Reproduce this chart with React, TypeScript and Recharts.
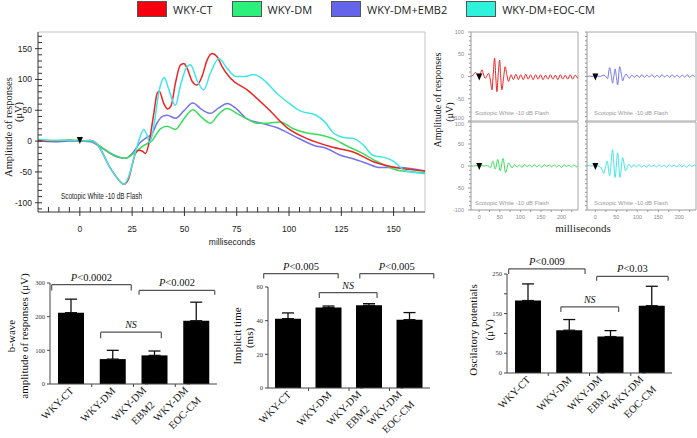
import React from 'react';
import {
  LineChart,
  Line,
  XAxis,
  YAxis,
  ReferenceLine,
  ReferenceDot,
  BarChart,
  Bar,
  ErrorBar,
} from 'recharts';

// ---------- series ----------
const SERIES = ['WKY-CT', 'WKY-DM', 'WKY-DM+EMB2', 'WKY-DM+EOC-CM'];
const LINE_COLORS = ['#ea2424', '#3ade5c', '#7373ea', '#3ee6e6'];
const BOX_COLORS = ['#f5000f', '#2cf07c', '#6565ec', '#2ef2dc'];

// ---------- scotopic ERG (ms / µV) ----------
const CT_T = [-20, -12, -5, 0, 5, 8, 10, 14.6, 18.6, 21, 23.4, 25, 26.6, 28.2, 29.8, 31.4, 33, 35.4, 37, 38, 40, 42, 43.6, 45.7, 48, 49.7, 51.3, 53.7, 56, 58.4, 60.8, 63.2, 65.6, 68, 72, 80, 89.5, 99, 108.6, 121, 131, 140, 153, 165];
const CT_V = [1, 0, 1, 0, 1, -4, -14, -44, -63, -70, -60, -39, -20, -15, -16, -20, -4, 46, 78, 81, 62, 52, 57, 94, 123, 126, 118, 97, 91, 105, 131, 142, 137, 121, 102, 83, 54, 22, 4, -10, -18, -33, -44, -48];

const DM_T = [-20, -12, -5, 0, 5, 10, 16, 21.8, 25.8, 30.6, 34.6, 38.5, 41.7, 45.7, 49.7, 54, 58.4, 62.4, 66.4, 70.4, 75, 80, 84.7, 89.5, 95.9, 102, 108.6, 115, 121, 127.7, 134, 142, 153, 165];
const DM_V = [2, 1, 2, 1, 0, -9, -22, -28, -20, -7, 1, 20, 24, 19, 36, 51, 38, 29, 44, 53, 45, 36, 29, 29, 31, 20, 13, 10, 4, -8, -18, -33, -48, -51];

const EMB_T = [-20, -12, -5, 0, 5, 10, 16, 21.8, 25, 29, 32, 34.6, 37, 40, 41.7, 45.7, 49.7, 54, 58.4, 62.4, 66.4, 70.4, 75, 80, 88, 94, 102, 112, 118, 124.5, 131, 137, 143.6, 153, 165];
const EMB_V = [0, -1, 0, 0, -1, -10, -23, -28, -20, -2, 6, 12, 30, 41, 42, 37, 49, 62, 51, 45, 54, 61, 52, 36, 28, 22, 9, -7, -12, -23, -29, -36, -43, -43, -49];

const EOC_T = [-20, -12, -5, 0, 5, 8, 10, 14.6, 18.6, 21, 23.4, 25.8, 28.2, 30.6, 32.2, 33.4, 35.4, 37.7, 40.4, 42.5, 45.7, 48, 51.3, 52.9, 56, 59.2, 62.4, 66.4, 70.4, 74.4, 79, 83, 88, 94, 100.6, 105.4, 113, 117.4, 121, 126, 131, 135.7, 140, 147, 150, 155, 160, 165];
const EOC_V = [3, 1, 1, 0, 1, -4, -14, -44, -63, -70, -57, -28, 1, 19, 9, -3, 25, 78, 103, 84, 58, 89, 121, 124, 99, 83, 110, 134, 118, 105, 105, 108, 99, 78, 60, 49, 42, 30, 14, 6, 4, -7, -23, -28, -33, -47, -51, -53];

const MAIN_X_LABELS = [0, 25, 50, 75, 100, 125, 150];
const MAIN_X_TICKS = [-15, -10, -5, 0, 5, 10, 15, 20, 25, 30, 35, 40, 45, 50, 55, 60, 65, 70, 75, 80, 85, 90, 95, 100, 105, 110, 115, 120, 125, 130, 135, 140, 145, 150, 155, 160];
const MAIN_Y_LABELS = [-100, -50, 0, 50, 100, 150];
const MAIN_Y_TICKS = [-110, -100, -90, -80, -70, -60, -50, -40, -30, -20, -10, 0, 10, 20, 30, 40, 50, 60, 70, 80, 90, 100, 110, 120, 130, 140, 150, 160, 170];

// ---------- oscillatory potentials (ms / µV) ----------
const OP_CT_T = [-20, -14, -9, -4, 0, 3, 6.5, 10, 14.6, 19, 22.8, 27, 31, 34, 37.4, 40, 43, 46, 49.6, 52, 55, 59, 63, 67, 71.5, 77, 83, 89, 95, 101, 107, 113, 119, 125, 131, 137, 143, 149, 155, 161, 167, 173, 179, 185, 191, 197, 203, 209, 215, 221, 227, 233, 239];
const OP_CT_V = [0, 4, 9, 3, -4, 6, 15, 6, -4, 2, 7, -8, -30, 5, 41, 2, -34, 3, 37, 2, -30, -4, 22, 4, -11, 4, -7, 5, -7, 4, -7, 5, -6, 4, -7, 4, -6, 4, -7, 3, -6, 4, -6, 3, -7, 4, -6, 3, -6, 4, -6, 3, -4];

const OP_DM_T = [-20, -14, -8, -2, 0, 6, 12, 18, 23, 27, 33, 39, 45, 51, 58, 64, 71.5, 80, 86, 92, 98, 104, 110, 116, 122, 128, 134, 140, 146, 152, 158, 164, 170, 176, 182, 188, 194, 200, 206, 212, 218, 224, 230, 236, 240];
const OP_DM_V = [0, 0, 1, 0, -1, 1, 0, 1, 0, -4, 11, -7, 15, -11, 17, -15, 7, -4, 3, -2, 2, -3, 3, -1, 2, -2, 3, -2, 2, -3, 3, -1, 2, -2, 3, -2, 2, -3, 3, -1, 2, -2, 3, -2, 1];

const OP_EMB_T = [-20, -14, -8, -2, 0, 6, 12, 18, 24, 29, 34, 38, 41, 44, 47, 50, 53, 58, 62, 65, 69, 73, 81, 87, 93, 99, 105, 111, 117, 123, 129, 135, 141, 147, 153, 159, 165, 171, 177, 183, 189, 195, 201, 207, 213, 219, 225, 231, 237];
const OP_EMB_V = [0, 1, 0, 1, 0, 1, 0, 3, 1, -5, 20, 2, -15, 1, 17, 0, -19, 22, 5, -10, 0, 5, -4, 3, -2, 3, -2, 4, -2, 3, -1, 4, -2, 3, -2, 4, -1, 3, -2, 4, -1, 3, -2, 3, -1, 4, -2, 3, 0];

const OP_EOC_T = [-20, -14, -8, -2, 0, 6, 12, 16, 20, 24, 28, 34, 41, 47, 53, 59, 65, 72, 80, 86, 92, 98, 104, 110, 116, 122, 128, 134, 140, 146, 152, 158, 164, 170, 176, 182, 188, 194, 200, 206, 212, 218, 224, 230, 236, 240];
const OP_EOC_V = [0, 1, 0, 1, 0, 0, -2, -8, -17, -3, 11, -22, 37, -26, 30, -26, 19, -11, 4, -3, 3, -2, 3, -2, 2, -3, 3, -1, 2, -2, 3, -2, 2, -3, 3, -1, 2, -2, 3, -2, 2, -3, 3, -1, 2, 0];

const OP_X_LABELS = [0, 50, 100, 150, 200];
const OP_X_TICKS = [0, 25, 50, 75, 100, 125, 150, 175, 200, 225];
const OP_Y_LABELS = [-100, -50, 0, 50, 100];
const OP_Y_TICKS = [-100, -90, -80, -70, -60, -50, -40, -30, -20, -10, 0, 10, 20, 30, 40, 50, 60, 70, 80, 90, 100];

// ---------- group statistics ----------
const GROUPS = ['WKY-CT', 'WKY-DM', 'WKY-DM + EBM2', 'WKY-DM + EOC-CM'];
const BWAVE = [212, 74, 85, 188];
const BWAVE_ERR = [40, 26, 13, 55];
const IMPLICIT = [41.2, 47.8, 49.1, 40.6];
const IMPLICIT_ERR = [3.4, 0.9, 1.0, 4.2];
const OSC = [183, 108, 92, 170];
const OSC_ERR = [42, 27, 15, 49];

const BWAVE_TICKS = [0, 100, 200, 300];
const IMPLICIT_TICKS = [0, 20, 40, 60];
const OSC_TICKS = [0, 50, 100, 150, 200, 250];
const OSC_LABELS = [0, 50, 150, 250];

// significance brackets: [from, to] on the group index axis, bar height, leg end
const BWAVE_SIG = [
  { from: 0.03, to: 1.46, y: 295, end: 278, text: 'P<0.0002' },
  { from: 1.6, to: 2.96, y: 278, end: 265, text: 'P<0.002' },
  { from: 0.91, to: 2.0, y: 154, end: 136, text: 'NS' },
];
const IMPLICIT_SIG = [
  { from: -0.08, to: 1.3, y: 68, end: 65, text: 'P<0.005' },
  { from: 1.7, to: 3.07, y: 68, end: 65, text: 'P<0.005' },
  { from: 0.95, to: 2.02, y: 56.7, end: 53.5, text: 'NS' },
];
const OSC_SIG = [
  { from: 0.03, to: 1.42, y: 263, end: 250, text: 'P<0.009' },
  { from: 1.63, to: 2.93, y: 244, end: 233, text: 'P<0.03' },
  { from: 0.98, to: 2.03, y: 167, end: 154, text: 'NS' },
];

const SANS = "'Liberation Sans Narrow', 'Liberation Sans', Arial, sans-serif";
const SERIF = "'Liberation Serif', 'Times New Roman', serif";

const pts = (t: number[], v: number[]) => t.map((x, i) => ({ x, y: v[i] }));

let measureCtx: CanvasRenderingContext2D | null = null;
const textWidth = (s: string, size: number) => {
  if (!measureCtx) measureCtx = document.createElement('canvas').getContext('2d');
  if (!measureCtx) return s.length * size * 0.55;
  measureCtx.font = `${size}px 'Liberation Serif'`;
  return measureCtx.measureText(s).width;
};

type TickStyle = {
  up: number;
  down: number;
  majorDown: number;
  gap: number;
  size: number;
  color: string;
  stroke: string;
  family: string;
  nudge?: Record<number, number>;
};

const xTick = (labels: number[], o: TickStyle) => (p: any) => {
  const v = p.payload?.value;
  const major = labels.includes(v);
  return (
    <g>
      <line x1={p.x} x2={p.x} y1={p.y - o.up} y2={p.y + (major ? o.majorDown : o.down)} stroke={o.stroke} strokeWidth={1} />
      {major && (
        <text x={p.x} y={p.y + o.gap} textAnchor="middle" fontSize={o.size} fill={o.color} fontFamily={o.family}>
          {v}
        </text>
      )}
    </g>
  );
};

const yTick = (labels: number[], o: TickStyle) => (p: any) => {
  const v = p.payload?.value;
  const major = labels.includes(v);
  const shift = o.nudge?.[v] ?? 0;
  return (
    <g>
      <line x1={p.x - (major ? o.majorDown : o.down)} x2={p.x + o.up} y1={p.y} y2={p.y} stroke={o.stroke} strokeWidth={1} />
      {major && (
        <text x={p.x - o.gap} y={p.y + shift} dy="0.35em" textAnchor="end" fontSize={o.size} fill={o.color} fontFamily={o.family}>
          {v}
        </text>
      )}
    </g>
  );
};

const triangle = (p: any) => (
  <path d={`M${p.cx - 3},${p.cy - 4} L${p.cx + 3},${p.cy - 4} L${p.cx},${p.cy + 3} Z`} fill="#000" />
);

function Legend() {
  return (
    <div style={{ position: 'absolute', left: 137, top: 1, display: 'flex', alignItems: 'center', fontFamily: "'Open Sans', sans-serif", fontSize: 11, color: '#222' }}>
      {SERIES.map((s, i) => (
        <div key={s} style={{ display: 'flex', alignItems: 'center', marginRight: 19 }}>
          <div style={{ width: 28, height: 14, background: BOX_COLORS[i], border: '1px solid #555' }} />
          <span style={{ marginLeft: 6 }}>{s}</span>
        </div>
      ))}
    </div>
  );
}

function MainErg() {
  const traces = [
    { d: pts(EMB_T, EMB_V), c: LINE_COLORS[2], k: 'emb' },
    { d: pts(DM_T, DM_V), c: LINE_COLORS[1], k: 'dm' },
    { d: pts(CT_T, CT_V), c: LINE_COLORS[0], k: 'ct' },
    { d: pts(EOC_T, EOC_V), c: LINE_COLORS[3], k: 'eoc' },
  ];
  const ts: TickStyle = { up: 5, down: 0, majorDown: 4, gap: 20, size: 8.5, color: '#222', stroke: '#333', family: SANS };
  const ys: TickStyle = { up: 4, down: 0, majorDown: 3, gap: 6, size: 8.5, color: '#222', stroke: '#333', family: SANS };
  return (
    <div style={{ position: 'absolute', left: 0, top: 0 }}>
      <LineChart width={440} height={250} margin={{ top: 32, right: 15, left: 0, bottom: 0 }}>
        <XAxis type="number" dataKey="x" domain={[-20, 165]} allowDataOverflow ticks={MAIN_X_TICKS} interval={0} height={38}
          axisLine={{ stroke: '#333' }} tickLine={false} tickSize={0} tickMargin={0} tick={xTick(MAIN_X_LABELS, ts)} />
        <YAxis type="number" domain={[-115, 177]} allowDataOverflow ticks={MAIN_Y_TICKS} interval={0} width={38}
          axisLine={{ stroke: '#333' }} tickLine={false} tickSize={0} tickMargin={0} tick={yTick(MAIN_Y_LABELS, ys)} />
        <ReferenceLine y={177} stroke="#c4c4c4" />
        <ReferenceLine x={165} stroke="#c4c4c4" />
        {traces.map((t) => (
          <Line key={t.k} data={t.d} dataKey="y" type="monotone" stroke={t.c} strokeWidth={1.5} dot={false} isAnimationActive={false} />
        ))}
        <ReferenceDot x={0} y={0} r={3} shape={triangle} />
      </LineChart>
    </div>
  );
}

function OpPanel({ t, v, color, left, top, showYLabels, showX }: any) {
  const width = left < 500 ? 140 : 141;
  const height = showX ? 125 : 98;
  const right = width === 141 ? 1 : 2;
  const margin = showX ? { top: 9, right, left: 0, bottom: 0 } : { top: 7, right, left: 0, bottom: 2 };
  const xs: TickStyle = { up: 0, down: 2, majorDown: 2, gap: 9, size: 5.5, color: '#8a8a8a', stroke: '#999', family: SANS };
  const ys: TickStyle = {
    up: 0, down: 2, majorDown: 3, gap: 7, size: 5.5, color: '#8a8a8a', stroke: '#999', family: SANS,
    nudge: showX ? { 100: 2.5 } : { [-100]: -2.5 },
  };
  return (
    <div style={{ position: 'absolute', left, top }}>
      <LineChart width={width} height={height} margin={margin}>
        <XAxis type="number" dataKey="x" domain={[-20, 240]} allowDataOverflow ticks={OP_X_TICKS} interval={0}
          hide={!showX} height={showX ? 28 : 0} axisLine={{ stroke: '#999' }} tickLine={false} tickSize={0} tickMargin={0}
          tick={xTick(OP_X_LABELS, xs)} />
        <YAxis type="number" domain={[-100, 100]} allowDataOverflow ticks={OP_Y_TICKS} interval={0} width={31}
          axisLine={{ stroke: '#999' }} tickLine={false} tickSize={0} tickMargin={0}
          tick={yTick(showYLabels ? OP_Y_LABELS : [], ys)} />
        <ReferenceLine y={100} stroke="#a8a8a8" />
        <ReferenceLine x={240} stroke="#a8a8a8" />
        {!showX && <ReferenceLine y={-100} stroke="#a8a8a8" />}
        <Line data={pts(t, v)} dataKey="y" type="monotone" stroke={color} strokeWidth={1} dot={false} isAnimationActive={false} />
        <ReferenceDot x={0} y={-2} r={3} shape={triangle} />
      </LineChart>
    </div>
  );
}

const groupTick = (band: number) => (p: any) => {
  const name = String(p.payload?.value);
  const idx = GROUPS.indexOf(name);
  const fs = 10.5;
  const lh = 16;
  const parts = name.split(' + ');
  const twoLine = parts.length > 1;
  const w1 = twoLine ? textWidth(parts[0] + ' ', fs) + textWidth('+', 8) : 0;
  const w2 = twoLine ? textWidth(parts[1], fs) : 0;
  return (
    <g>
      {idx < GROUPS.length - 1 && (
        <line x1={p.x + band / 2} x2={p.x + band / 2} y1={p.y} y2={p.y + 3} stroke="#444" />
      )}
      <text transform={`translate(${p.x + 3.5},${p.y + 7.5}) rotate(-45)`} textAnchor="end" fontFamily={SERIF} fontSize={fs} fill="#111">
        {twoLine ? (
          <>
            <tspan x={0} y={-lh / 2}>{parts[0] + ' '}</tspan>
            <tspan fontSize={8} dy={-3}>+</tspan>
            <tspan x={-(w1 - w2) / 2} y={lh / 2}>{parts[1]}</tspan>
          </>
        ) : (
          <tspan x={0} y={0}>{name}</tspan>
        )}
      </text>
    </g>
  );
};

const sigLabel = (text: string) => (props: any) => {
  const vb = props.viewBox || {};
  const x0 = vb.x ?? Math.min(vb.x1, vb.x2);
  const w = vb.width ?? Math.abs(vb.x2 - vb.x1);
  const y0 = vb.y ?? vb.y1;
  const isP = text.startsWith('P');
  return (
    <text x={x0 + w / 2} y={y0 - 4} textAnchor="middle" fontFamily={SERIF} fontSize={isP ? 10.5 : 10} fill="#111">
      {isP ? (
        <>
          <tspan fontStyle="italic">P</tspan>
          {text.slice(1)}
        </>
      ) : (
        <tspan fontStyle="italic">{text}</tspan>
      )}
    </text>
  );
};

function StatPanel({ values, errs, domain, ticks, labels, sig, left, top, width, height, mTop, mRight, yWidth, xHeight }: any) {
  const data = GROUPS.map((name, i) => ({ name, v: values[i], e: [0, errs[i]] }));
  const band = (width - yWidth - mRight) / GROUPS.length;
  const ys: TickStyle = { up: 0, down: 3, majorDown: 3, gap: 5, size: 6.5, color: '#333', stroke: '#444', family: SERIF };
  return (
    <div style={{ position: 'absolute', left, top }}>
      <BarChart width={width} height={height} data={data} margin={{ top: mTop, right: mRight, left: 0, bottom: 0 }} barCategoryGap={0}>
        <XAxis dataKey="name" height={xHeight} interval={0} axisLine={{ stroke: '#444' }} tickLine={false} tickSize={0} tickMargin={0} tick={groupTick(band)} />
        <XAxis xAxisId="n" type="number" domain={[-0.5, 3.5]} allowDataOverflow hide />
        <YAxis type="number" domain={domain} allowDataOverflow ticks={ticks} interval={0} width={yWidth}
          axisLine={{ stroke: '#444' }} tickLine={false} tickSize={0} tickMargin={0} tick={yTick(labels, ys)} />
        <Bar dataKey="v" fill="#000" barSize={26} isAnimationActive={false}>
          <ErrorBar dataKey="e" width={6} stroke="#111" strokeWidth={1.3} direction="y" />
        </Bar>
        {sig.map((s: any, i: number) => [
          <ReferenceLine key={`h${i}`} xAxisId="n" ifOverflow="visible" stroke="#555" strokeWidth={1.2}
            segment={[{ x: s.from, y: s.y }, { x: s.to, y: s.y }]} label={sigLabel(s.text)} />,
          <ReferenceLine key={`l${i}`} xAxisId="n" ifOverflow="visible" stroke="#555" strokeWidth={1.2}
            segment={[{ x: s.from, y: s.y }, { x: s.from, y: s.end }]} />,
          <ReferenceLine key={`r${i}`} xAxisId="n" ifOverflow="visible" stroke="#555" strokeWidth={1.2}
            segment={[{ x: s.to, y: s.y }, { x: s.to, y: s.end }]} />,
        ])}
      </BarChart>
    </div>
  );
}

function Titles() {
  const rot = (cx: number, cy: number, text: string, size: number, family = SERIF) => (
    <text transform={`translate(${cx},${cy}) rotate(-90)`} textAnchor="middle" dominantBaseline="central" fontFamily={family} fontSize={size} fill="#111">
      {text}
    </text>
  );
  const flash = (x: number, y: number, size: number, color: string, len: number) => (
    <text x={x} y={y} fontFamily={SANS} fontSize={size} fill={color} textLength={len} lengthAdjust="spacingAndGlyphs">
      Scotopic  White -10 dB Flash
    </text>
  );
  return (
    <svg width={697} height={438} style={{ position: 'absolute', left: 0, top: 0, pointerEvents: 'none' }}>
      {rot(8, 127, 'Amplitude of responses', 10.5)}
      {rot(18, 112, '(\u03bcV)', 10.5)}
      <text x={232} y={245} textAnchor="middle" fontFamily={SANS} fontSize={8.5} fill="#222">milliseconds</text>
      {flash(61, 199, 8.5, '#222', 81)}

      {rot(437, 100, 'Amplitude of responses', 10)}
      {rot(449, 112, '(\u03bcV)', 10)}
      <text x={583} y={232} textAnchor="middle" fontFamily={SERIF} fontSize={11} fill="#222">milliseconds</text>
      {flash(475, 115, 5, '#9a9a9a', 74)}
      {flash(594, 115, 5, '#9a9a9a', 74)}
      {flash(475, 205, 5, '#9a9a9a', 74)}
      {flash(594, 205, 5, '#9a9a9a', 74)}

      {rot(11, 336, 'b-wave', 11)}
      {rot(24, 336, 'amplitude of responses (\u03bcV)', 11)}
      {rot(237, 336, 'Implicit time', 11)}
      {rot(249, 338, '(ms)', 11)}
      {rot(473, 330, 'Oscilatory potentials', 11)}
      {rot(489, 330, '(\u03bcV)', 11)}
    </svg>
  );
}

export default function App() {
  return (
    <div style={{ position: 'absolute', left: 0, top: 0, width: 697, height: 438, background: '#fff', overflow: 'hidden' }}>
      <Legend />
      <MainErg />
      <OpPanel t={OP_CT_T} v={OP_CT_V} color={LINE_COLORS[0]} left={440} top={25} showYLabels showX={false} />
      <OpPanel t={OP_EMB_T} v={OP_EMB_V} color={LINE_COLORS[2]} left={556} top={25} showYLabels={false} showX={false} />
      <OpPanel t={OP_DM_T} v={OP_DM_V} color={LINE_COLORS[1]} left={440} top={113} showYLabels showX />
      <OpPanel t={OP_EOC_T} v={OP_EOC_V} color={LINE_COLORS[3]} left={556} top={113} showYLabels={false} showX />
      <StatPanel values={BWAVE} errs={BWAVE_ERR} domain={[0, 300]} ticks={BWAVE_TICKS} labels={BWAVE_TICKS} sig={BWAVE_SIG}
        left={0} top={270} width={230} height={168} mTop={13} mRight={13} yWidth={50} xHeight={54} />
      <StatPanel values={IMPLICIT} errs={IMPLICIT_ERR} domain={[0, 60]} ticks={IMPLICIT_TICKS} labels={IMPLICIT_TICKS} sig={IMPLICIT_SIG}
        left={230} top={260} width={230} height={178} mTop={27} mRight={30} yWidth={38} xHeight={50} />
      <StatPanel values={OSC} errs={OSC_ERR} domain={[0, 250]} ticks={OSC_TICKS} labels={OSC_LABELS} sig={OSC_SIG}
        left={460} top={255} width={237} height={183} mTop={19} mRight={25} yWidth={47} xHeight={65} />
      <Titles />
    </div>
  );
}
